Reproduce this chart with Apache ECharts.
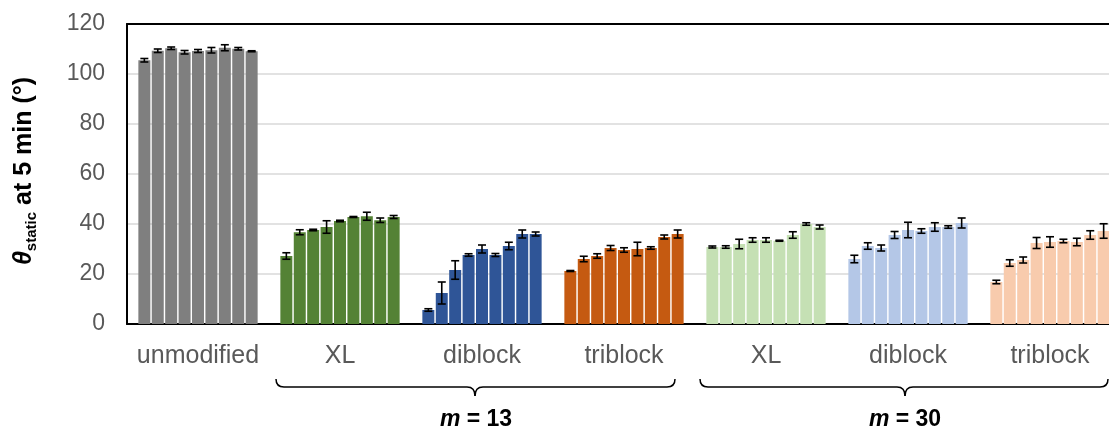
<!DOCTYPE html>
<html>
<head>
<meta charset="utf-8">
<script src="https://cdn.jsdelivr.net/npm/echarts@6/dist/echarts.min.js"></script>
<style>
  html, body { margin: 0; padding: 0; background: #fff; }
  #chart { width: 1109px; height: 430px; }
</style>
</head>
<body>
<div id="chart"></div>
<script>
// Static contact angle after 5 min, nine replicate bars per sample type
const categories = ['unmodified', 'XL', 'diblock', 'triblock', 'XL', 'diblock', 'triblock'];
const yTicks = [0, 20, 40, 60, 80, 100, 120];

const unmodified = [105.5, 109.3, 110.3, 108.7, 109.2, 109.5, 110.5, 110.1, 109.1];
const xl13       = [27.2, 36.7, 37.6, 38.8, 41.2, 42.8, 43.1, 41.5, 42.8];
const diblock13  = [5.6, 12.4, 21.6, 27.6, 30.0, 27.6, 31.2, 36.0, 36.0];
const triblock13 = [21.2, 26.0, 27.2, 30.4, 29.6, 30.0, 30.4, 34.8, 36.0];
const xl30       = [30.8, 30.8, 32.0, 33.6, 33.6, 33.3, 35.6, 40.0, 38.8];
const diblock30  = [26.0, 31.2, 30.4, 35.6, 37.6, 37.2, 38.8, 38.8, 40.4];
const triblock30 = [16.8, 24.4, 25.6, 32.4, 32.8, 33.2, 32.8, 35.6, 37.2];

const unmodifiedErr = [0.7, 0.7, 0.5, 0.7, 0.6, 1.1, 1.2, 0.5, 0.2];
const xl13Err       = [1.3, 1.0, 0.3, 2.5, 0.3, 0.2, 1.6, 0.9, 0.6];
const diblock13Err  = [0.5, 4.4, 3.7, 0.5, 1.6, 0.6, 1.5, 1.6, 0.8];
const triblock13Err = [0.2, 1.1, 0.9, 1.0, 0.9, 2.7, 0.5, 0.8, 1.6];
const xl30Err       = [0.4, 0.5, 1.9, 0.9, 0.9, 0.2, 1.3, 0.5, 0.8];
const diblock30Err  = [1.5, 1.3, 1.2, 1.4, 3.1, 0.9, 1.7, 0.5, 2.0];
const triblock30Err = [0.7, 1.3, 1.2, 2.2, 2.1, 0.7, 1.5, 1.7, 2.9];

const groupColors = ['#7F7F7F', '#548235', '#2F5597', '#C55A11', '#C5E0B4', '#B4C7E7', '#F8CBAD'];

const groups = [unmodified, xl13, diblock13, triblock13, xl30, diblock30, triblock30];
const groupErrs = [unmodifiedErr, xl13Err, diblock13Err, triblock13Err, xl30Err, diblock30Err, triblock30Err];
const nRep = 9;
const CAT_GAP = 0.16;
const BAR_GAP = 0.12;

const series = [];
for (let r = 0; r < nRep; r++) {
  series.push({
    type: 'bar',
    name: 'rep' + (r + 1),
    barGap: (BAR_GAP * 100) + '%',
    barCategoryGap: (CAT_GAP * 100) + '%',
    data: groups.map((g, gi) => ({ value: g[r], itemStyle: { color: groupColors[gi] } })),
    z: 2
  });
}

// error bars: [group index, replicate index, mean, sd]
const errData = [];
groups.forEach((g, gi) => g.forEach((v, r) => errData.push([gi, r, v, groupErrs[gi][r]])));

series.push({
  type: 'custom',
  name: 'err',
  z: 5,
  encode: { x: 0, y: 2 },
  data: errData,
  renderItem: function (params, api) {
    const gi = api.value(0), r = api.value(1), v = api.value(2), e = api.value(3);
    const band = api.size([1, 0])[0];
    const remain = band - band * CAT_GAP;
    const bw = remain / (nRep + (nRep - 1) * BAR_GAP);
    const total = nRep * bw + (nRep - 1) * bw * BAR_GAP;
    const center = api.coord([gi, 0])[0];
    const x = center - total / 2 + r * bw * (1 + BAR_GAP) + bw / 2;
    const yHi = api.coord([gi, v + e])[1];
    const yLo = api.coord([gi, v - e])[1];
    const cap = 4;
    const st = { stroke: '#000', lineWidth: 1.6, fill: null };
    return {
      type: 'group',
      children: [
        { type: 'line', shape: { x1: x, y1: yHi, x2: x, y2: yLo }, style: st },
        { type: 'line', shape: { x1: x - cap, y1: yHi, x2: x + cap, y2: yHi }, style: st },
        { type: 'line', shape: { x1: x - cap, y1: yLo, x2: x + cap, y2: yLo }, style: st }
      ]
    };
  }
});

// horizontal curly brace under a run of categories
function brace(x0, x1, xm, yTip, yLine, yPeak) {
  const st = { stroke: '#000', lineWidth: 1.5, fill: null };
  const r = 8, c = 8;
  const q = (x1_, y1_, cx, cy, x2_, y2_) => ({
    type: 'bezierCurve', shape: { x1: x1_, y1: y1_, cpx1: cx, cpy1: cy, x2: x2_, y2: y2_ }, style: st
  });
  return {
    type: 'group', z: 10,
    children: [
      q(x0, yTip, x0, yLine, x0 + r, yLine),
      { type: 'line', shape: { x1: x0 + r, y1: yLine, x2: xm - c, y2: yLine }, style: st },
      q(xm - c, yLine, xm, yLine, xm, yPeak),
      q(xm, yPeak, xm, yLine, xm + c, yLine),
      { type: 'line', shape: { x1: xm + c, y1: yLine, x2: x1 - r, y2: yLine }, style: st },
      q(x1 - r, yLine, x1, yLine, x1, yTip)
    ]
  };
}

const chart = echarts.init(document.getElementById('chart'), null, { renderer: 'canvas' });

const FONT = '"Liberation Sans", Arial, sans-serif';
const frameLine = { show: true, lineStyle: { color: '#000', width: 2 } };

chart.setOption({
  animation: false,
  backgroundColor: '#ffffff',
  grid: {
    left: 127, top: 24, width: 994, height: 300,
    outerBoundsMode: 'none',
    containLabel: false
  },
  xAxis: [
    {
      type: 'category',
      data: categories,
      axisLine: frameLine,
      axisTick: { show: false },
      axisLabel: { color: '#595959', fontSize: 25, fontFamily: FONT, margin: 20, interval: 0 }
    },
    {
      type: 'category',
      position: 'top',
      data: categories,
      axisLine: frameLine,
      axisTick: { show: false },
      axisLabel: { show: false }
    }
  ],
  yAxis: {
    type: 'value',
    min: yTicks[0], max: yTicks[yTicks.length - 1], interval: 20,
    axisLine: frameLine,
    axisTick: { show: false },
    splitLine: { showMinLine: false, showMaxLine: false, lineStyle: { color: '#D9D9D9', width: 1.5 } },
    axisLabel: { color: '#595959', fontSize: 23, fontFamily: FONT, margin: 22 }
  },
  graphic: [
    {
      type: 'text', x: 24, y: 171, rotation: Math.PI / 2, z: 10,
      style: {
        text: '{t|θ}{s|static}{n| at 5 min (°)}',
        align: 'center', verticalAlign: 'middle',
        rich: {
          t: { fontSize: 25, fontWeight: 'bold', fontStyle: 'italic', fontFamily: FONT, fill: '#000', lineHeight: 30 },
          s: { fontSize: 15, fontWeight: 'bold', fontFamily: FONT, fill: '#000', lineHeight: 16, verticalAlign: 'bottom' },
          n: { fontSize: 25, fontWeight: 'bold', fontFamily: FONT, fill: '#000', lineHeight: 30 }
        }
      }
    },
    brace(276, 675, 475, 379, 387, 396),
    brace(700, 1108, 905, 379, 387, 396),
    {
      type: 'text', x: 476, y: 420, z: 10,
      style: {
        text: '{i|m}{b| = 13}', align: 'center', verticalAlign: 'middle',
        rich: {
          i: { fontSize: 23, fontWeight: 'bold', fontStyle: 'italic', fontFamily: FONT, fill: '#000' },
          b: { fontSize: 23, fontWeight: 'bold', fontFamily: FONT, fill: '#000' }
        }
      }
    },
    {
      type: 'text', x: 905, y: 420, z: 10,
      style: {
        text: '{i|m}{b| = 30}', align: 'center', verticalAlign: 'middle',
        rich: {
          i: { fontSize: 23, fontWeight: 'bold', fontStyle: 'italic', fontFamily: FONT, fill: '#000' },
          b: { fontSize: 23, fontWeight: 'bold', fontFamily: FONT, fill: '#000' }
        }
      }
    }
  ],
  series: series
});
</script>
</body>
</html>
